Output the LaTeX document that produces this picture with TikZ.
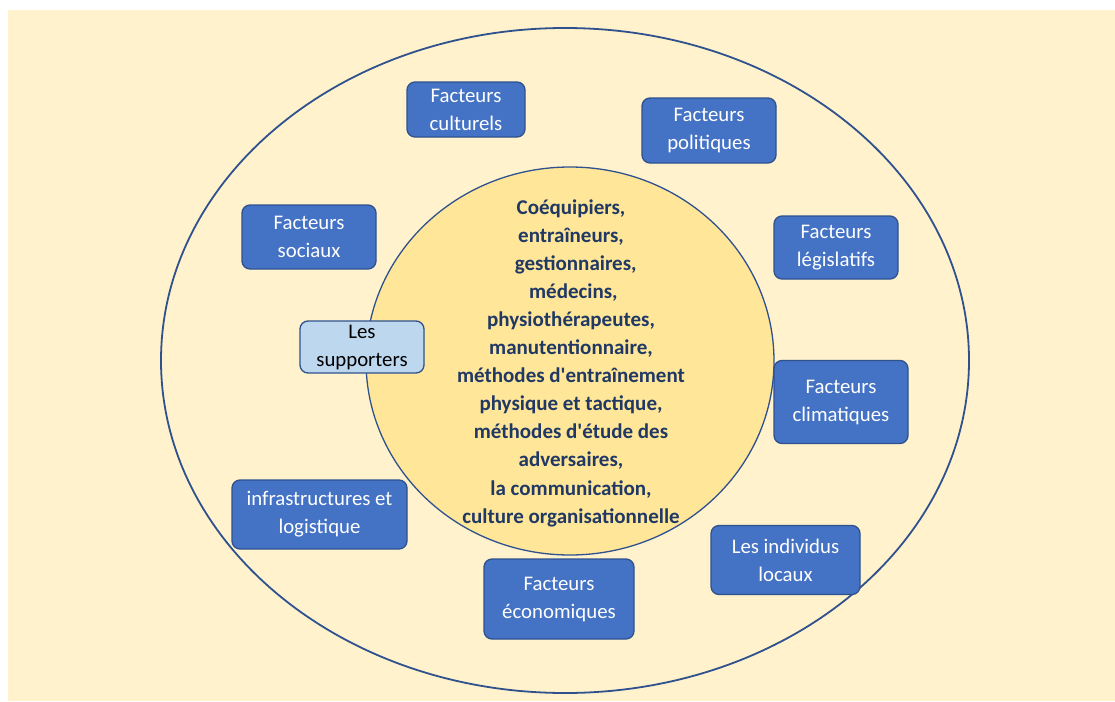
\documentclass[tikz,border=0pt]{standalone}
\usepackage{fontspec}
\setmainfont{Carlito}[Ligatures=TeXOff]
\usepackage{tikz}
\usetikzlibrary{shapes,positioning}
\definecolor{creme}{HTML}{FFF2CC}
\definecolor{jaune}{HTML}{FFE699}
\definecolor{bleu}{HTML}{4472C4}
\definecolor{bleufonce}{HTML}{2F528F}
\definecolor{bleuclair}{HTML}{BDD7EE}
\definecolor{marine}{HTML}{203864}

\begin{document}
\begin{tikzpicture}[x=1pt,y=-1pt]
            \tikzstyle{every node}+=[inner sep=0pt, font=\fontsize{20.8}{28}\selectfont, align=center]
            \tikzstyle{facteur}=[draw=bleufonce, line width=1.3pt, fill=bleu, text=white, rounded corners=8pt]
            \tikzstyle{fan}=[facteur, fill=bleuclair, text=black]
            \useasboundingbox (0,0) rectangle (1115,701);
            \fill [creme] (8,10) rectangle (1115,701);
            % les deux cercles
            \draw [bleufonce, line width=1.8pt] (565,360.5) ellipse (404 and 332.5);
            \draw [bleufonce, line width=1.3pt, fill=jaune] (570,361) ellipse (204 and 194);
            \node (centre) at (571,363) [text=marine, font=\bfseries\fontsize{21}{28.1}\selectfont] {Coéquipiers,\\ entraîneurs,\\ \ \ gestionnaires,\\ \ médecins,\\ physiothérapeutes,\\ manutentionnaire,\\ méthodes d'entraînement\\ physique et tactique,\\ méthodes d'étude des\\ adversaires,\\ la communication,\\ culture organisationnelle};
            % les facteurs
            \node (cul) at (466,109.5) [facteur, minimum width=118, minimum height=55] {Facteurs\\ culturels};
            \node (pol) at (709,130.5) [facteur, minimum width=134, minimum height=65] {Facteurs\\ politiques};
            \node (soc) at (309,237) [facteur, minimum width=134, minimum height=64] {Facteurs\\ sociaux};
            \node (sup) at (362,347) [fan, minimum width=124, minimum height=52] {Les\\ supporters};
            \node (leg) at (836,247.5) [facteur, minimum width=124, minimum height=63] {Facteurs\\ législatifs};
            \node (cli) at (841,402) [facteur, minimum width=134, minimum height=83] {Facteurs\\ climatiques};
            \node (inf) at (319.5,514.5) [facteur, minimum width=175, minimum height=69] {infrastructures et\\ logistique};
            \node (eco) at (559,599) [facteur, minimum width=150, minimum height=80] {Facteurs\\ économiques};
            \node (ind) at (785.5,560) [facteur, minimum width=149, minimum height=69] {Les individus\\ locaux};
\end{tikzpicture}
\end{document}
